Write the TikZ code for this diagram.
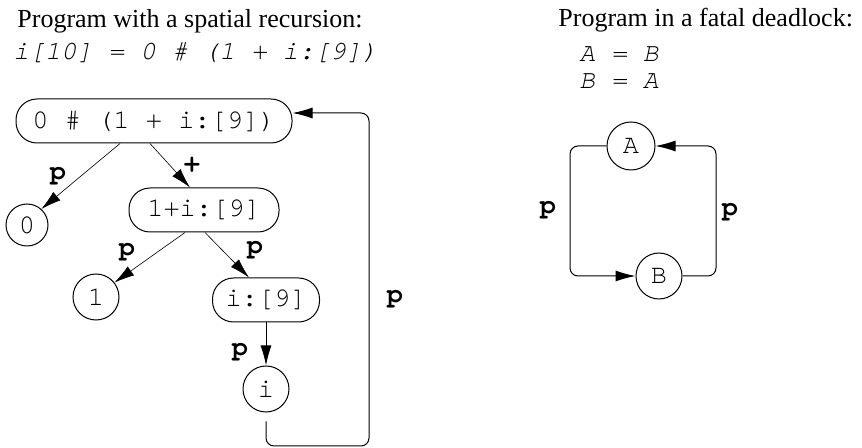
\documentclass[tikz,border=0pt]{standalone}
\usepackage{fontspec}
\setmainfont{Liberation Serif}
\setmonofont{TeX Gyre Cursor}
\usetikzlibrary{arrows.meta}
\tikzset{roundnode/.style={circle,draw=black,line width=0.5pt,minimum size=#1,inner sep=0pt,font=\fontsize{13.5}{15}\ttfamily},
         roundnode/.default=23pt,
         codenode/.style={rectangle,rounded corners=10.5pt,draw=black,line width=0.5pt,minimum height=22pt,inner sep=0pt,font=\fontsize{13.5}{15}\ttfamily},
         lbl/.style={font=\fontsize{13.5}{15}\ttfamily\bfseries,inner sep=0pt},
         myarrow/.style={-{Latex[length=10pt,width=5.5pt]},line width=#1},
         myarrow/.default=0.5pt,
         title/.style={anchor=base west,inner sep=0pt,font=\fontsize{13}{16}\selectfont},
         prog/.style={anchor=base west,inner sep=0pt,font=\fontsize{13.2}{15}\ttfamily\itshape}}

\begin{document}
\begin{tikzpicture}[x=0.5pt,y=-0.5pt]
\useasboundingbox (0,0) rectangle (862,448);

\node[title] (t1) at (17,28) {Program with a spatial recursion:};
\node[prog] (c1) at (13,60) {i[10] = 0 \# (1 + i:[9])};
\node[title] (t2) at (558,27) {Program in a fatal deadlock:};
\node[prog] (c2) at (579,62) {A = B};
\node[prog] (c3) at (579,89) {B = A};

\node[codenode,minimum width=138pt] (top) at (154,121) {0 \# (1 + i:[9])};
\node[roundnode=21pt] (zero) at (27,225) {0};
\node[codenode,minimum width=75pt] (sum) at (204,210) {1+i:[9]};
\node[roundnode] (one) at (96,297) {1};
\node[codenode,minimum width=53.5pt] (rest) at (266,300) {i:[9]};
\node[roundnode] (iv) at (266,389) {i};
\coordinate (loopc) at (369,446);

\draw[myarrow=0.3pt] ([xshift=-17pt]top.south) -- (zero.48);
\draw[myarrow=0.3pt] ([xshift=-2pt]top.south) -- ([xshift=-7pt]sum.north);
\draw[myarrow=0.3pt] ([xshift=-9.5pt]sum.south) -- (one.38);
\draw[myarrow=0.3pt] ([xshift=0.5pt]sum.south) -- ([xshift=-8.5pt]rest.north);
\draw[myarrow] (rest.south) -- (iv.north);
\draw[myarrow,rounded corners=4pt] ([yshift=-4.5pt]iv.south) |- (loopc) |- ([yshift=4pt]top.east);

\node[lbl] (p1) at (58,176) {p};
\node[lbl] (plus) at (192,165) {+};
\node[lbl] (p2) at (127,252) {p};
\node[lbl] (p3) at (255,250) {p};
\node[lbl] (p4) at (240,352) {p};
\node[lbl] (p5) at (395,299) {p};

\node[roundnode=24pt] (A) at (631,146) {A};
\node[roundnode] (B) at (659,276) {B};
\coordinate (cornerl) at (570,276);
\coordinate (cornerr) at (716,146);

\draw[myarrow,rounded corners=4pt] (A.west) -| (cornerl) -- (B.west);
\draw[myarrow,rounded corners=4pt] (B.east) -| (cornerr) -- (A.east);

\node[lbl] (p6) at (548,210) {p};
\node[lbl] (p7) at (730,212) {p};
\end{tikzpicture}
\end{document}
